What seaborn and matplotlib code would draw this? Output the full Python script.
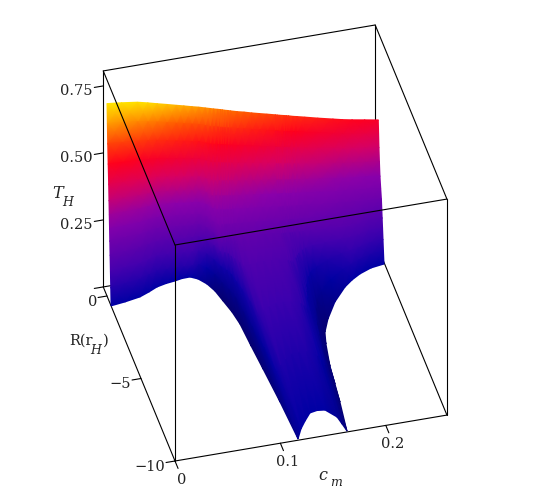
import numpy as np
import matplotlib
matplotlib.use('Agg')
import matplotlib.pyplot as plt
import seaborn as sns

# surface columns: c_m, T_H along the R=0 edge, R(r_H) where the surface hits T_H=0
c_nodes = [0, .0138, .0289, .0387, .0476, .0569, .0658, .0729, .0806, .087, .0931, .0976, .1011,
           .105, .1077, .1095, .1117, .1147, .1172, .1235, .130, .1373, .1444, .1517, .1598, .1617,
           .1635, .1679, .1701, .1722, .1767, .1802, .1876, .2, .2144, .2232, .2325, .2444, .2574]
T_top = [.718, .712, .704, .695, .686, .677, .668, .661, .653, .647, .640, .635, .631,
         .627, .624, .622, .619, .616, .613, .606, .60, .592, .585, .578, .570, .568,
         .566, .562, .560, .558, .553, .55, .543, .531, .518, .510, .503, .495, .486]
R_edge = [-.6, -.51, -.37, -.175, .03, .14, .2, .27, .28, .09, -.28, -.75, -1.39,
          -2.1, -2.86, -4.21, -5.63, -7.66, -9.93, -9.39, -8.98, -8.57, -8.5, -8.55, -9.06, -9.5,
          -9.95, -8.24, -7.17, -6.1, -4.82, -4.13, -3.42, -2.52, -1.77, -1.44, -1.17, -.94, -.84]
# how dark the steep flanks look
dark = [0, 0, 0, 0, 0, 0, 0, 0, 0, .02, .05, .08, .1,
        .1, .1, .1, .09, .07, .04, 0, 0, 0, 0, 0, .03, .05,
        .08, .1, .1, .1, .1, .1, .08, .05, .02, 0, 0, 0, 0]

# rows: the steep wall near R=0 first, then the long run down to the T_H=0 edge
R_wall = [0, -.05, -.1, -.17, -.25, -.36, -.5, -.68, -.9]
run_frac = [.12, .35, .65, 1]
T_frac = [1, .9, .8, .7, .6, .52, .45, .38, .32, .25, .17, .09, 0]
dark_frac = [0, 0, 0, 0, 0, 0, 0, 0, .1, .4, .8, 1, 1]

T_ticks = [0, .25, .5, .75]
T_labels = ['', '0.25', '0.50', '0.75']
R_ticks = [0, -5, -10]
R_labels = ['0', '\u22125', '\u221210']
c_ticks = [0, .1, .2]
c_labels = ['0', '0.1', '0.2']

c_lim = (0, .258)
R_lim = (-10, .55)
T_lim = (0, .806)

# colour levels from T_H = -0.1 to 0.8
levels = ['#06006e', '#0000a5', '#3c00ae', '#6400ac', '#8c00aa', '#d70064',
          '#ff001e', '#ff5a00', '#ffe000', '#ffff00']


def project(c, R, T):
    # fixed view of the maple box, same scale everywhere
    c, R, T = np.asarray(c), np.asarray(R), np.asarray(T)
    x = 175 + 1054 * c - 6.8 * (R + 10)
    y = 462 - 178 * c - 16.5 * (R + 10) - 268 * T
    return x, y


def line(ax, a, b, z):
    x, y = project(*zip(a, b))
    sns.lineplot(x=x, y=y, ax=ax, color='black', lw=0.8, sort=False, estimator=None,
                 legend=False, zorder=z)


sns.set_theme(style='white')
plt.rcParams['font.family'] = ['DejaVu Serif']

fig = plt.figure(figsize=(5.5, 4.89), dpi=100)
ax = fig.add_axes([0, 0, 1, 1])

edge = np.array(R_edge)
wall = np.array(R_wall)[:, None] * np.ones_like(edge)
run = wall[-1] + np.outer(run_frac, edge - wall[-1])
# short columns run straight down instead of following the wall
straight = np.outer(1 - np.array(T_frac), np.minimum(edge, 0))
R_m = np.maximum(np.vstack([wall, run]), straight)
c_m = np.tile(c_nodes, (len(T_frac), 1))
T_m = np.outer(T_frac, T_top)
shade = T_m - np.outer(dark_frac, dark)
X, Y = project(c_m, R_m, T_m)
cmap = sns.blend_palette(levels, as_cmap=True)
ax.pcolormesh(X, Y, shade, shading='gouraud', cmap=cmap, vmin=-.1, vmax=.8, zorder=2)

c0, c1 = c_lim
R0, R1 = R_lim
T0, T1 = T_lim
# hidden edges go under the surface
back = [((c0, R1, T0), (c0, R1, T1)), ((c1, R1, T0), (c1, R1, T1)), ((c0, R1, T0), (c1, R1, T0)),
        ((c0, R1, T0), (c0, R0, T0)), ((c1, R1, T0), (c1, R0, T0)), ((c0, R0, T0), (c1, R0, T0)),
        ((c0, R1, T1), (c1, R1, T1)), ((c1, R1, T1), (c1, R0, T1))]
front = [((c0, R1, T1), (c0, R0, T1)), ((c0, R0, T1), (c1, R0, T1)),
         ((c0, R0, T0), (c0, R0, T1)), ((c1, R0, T0), (c1, R0, T1))]
for a, b in back:
    line(ax, a, b, 1)
for a, b in front:
    line(ax, a, b, 3)

for t in T_ticks:
    line(ax, (c0, R1, t), (c0 - .0085, R1, t), 1)
for r in R_ticks:
    line(ax, (c0, r, T0), (c0 - .0085, r, T0), 1)
for v in c_ticks:
    line(ax, (v, R0, T0), (v, R0 - .45, T0), 1)

size = 10.5
ink = '#222222'
for t, s in zip(T_ticks, T_labels):
    x, y = project(c0, R1, t)
    ax.text(x - 11, y + 4, s, ha='right', va='center', fontsize=size, color=ink)
for r, s in zip(R_ticks, R_labels):
    x, y = project(c0, r, T0)
    ax.text(x - 10, y + 5, s, ha='right', va='center', fontsize=size, color=ink)
for v, s in zip(c_ticks, c_labels):
    x, y = project(v, R0, T0)
    ax.text(x + 7, y + 18, s, ha='center', va='center', fontsize=size, color=ink)

# axis titles, subscripts set by hand as in the original
ax.text(52, 193, 'T', style='italic', ha='left', va='center', fontsize=11.5, color=ink)
ax.text(62, 202, 'H', style='italic', ha='left', va='center', fontsize=9, color=ink)
ax.text(69, 341, 'R(r', ha='left', va='center', fontsize=size, color=ink)
ax.text(90, 351, 'H', style='italic', ha='left', va='center', fontsize=9, color=ink)
ax.text(103, 341, ')', ha='left', va='center', fontsize=size, color=ink)
ax.text(318, 475, 'c', style='italic', ha='left', va='center', fontsize=11.5, color=ink)
ax.text(330, 482, 'm', style='italic', ha='left', va='center', fontsize=9, color=ink)

ax.set_xlim(0, 550)
ax.set_ylim(489, 0)
ax.axis('off')
fig.savefig('out.png', dpi=100, facecolor='white')
